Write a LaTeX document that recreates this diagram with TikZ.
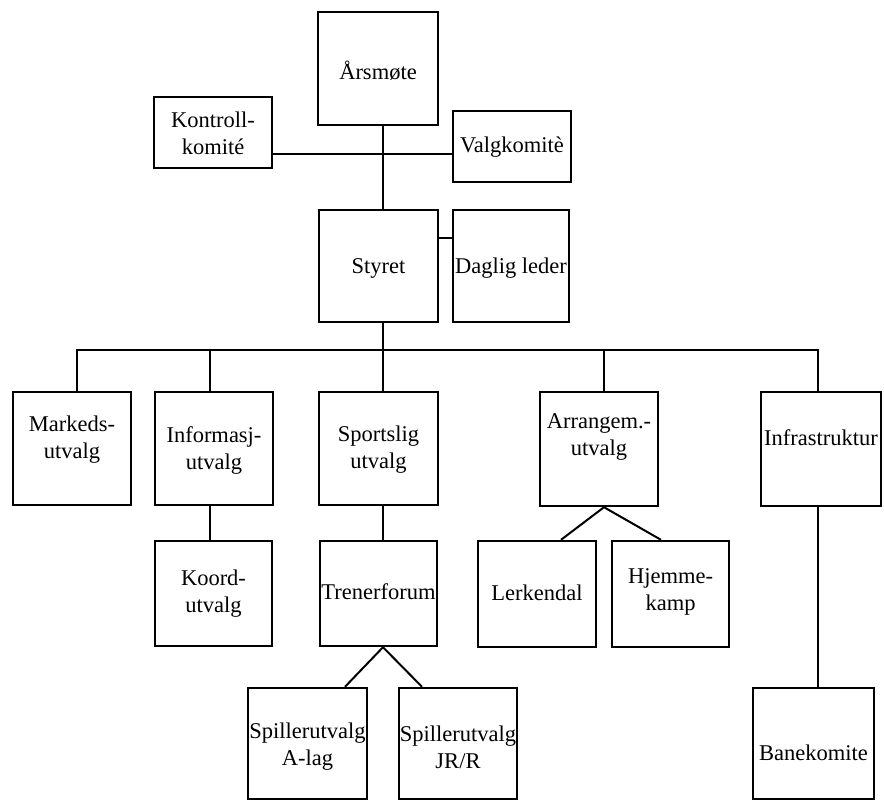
\documentclass[tikz,border=0pt]{standalone}
\usepackage{fontspec}
\setmainfont{Liberation Serif}
\begin{document}
\begin{tikzpicture}[x=1pt,y=-1pt,
  box/.style={draw=black, line width=2.4pt, rectangle, inner sep=0pt, fill=none},
  lbl/.style={inner sep=0pt, align=center, font=\fontsize{22.5}{27}\selectfont},
  conn/.style={draw=black, line width=2pt}]
\useasboundingbox[fill=white] (0,0) rectangle (884,801);
% box macro: name, left, top, right, bottom, text y, text
\newcommand\orgbox[7]{%
  \node[box, minimum width={(#4-#2)*1pt}, minimum height={(#5-#3)*1pt}] (#1) at ({(#2+#4)/2},{(#3+#5)/2}) {};
  \node[lbl] (#1-t) at ({(#2+#4)/2},#6) {#7};}
\orgbox{arsmote}{318}{12}{438}{125}{71}{Årsmøte}
\orgbox{kontroll}{154}{97}{272}{168}{133}{Kontroll-\\komité}
\orgbox{valg}{453}{111}{571}{182}{147}{Valgkomitè}
\orgbox{styret}{319}{210}{438}{322}{268}{Styret}
\orgbox{daglig}{453}{210}{569}{322}{268}{Daglig leder}
\orgbox{markeds}{13}{392}{131}{505}{440}{Markeds-\\utvalg}
\orgbox{info}{155}{392}{273}{505}{450}{Informasj-\\utvalg}
\orgbox{sport}{319}{392}{438}{505}{450}{Sportslig\\utvalg}
\orgbox{arr}{540}{392}{658}{506}{437}{Arrangem.-\\utvalg}
\orgbox{infra}{761}{392}{881}{506}{438}{Infrastruktur}
\orgbox{koord}{155}{541}{272}{646}{594}{Koord-\\utvalg}
\orgbox{trener}{320}{541}{437}{646}{592}{Trenerforum}
\orgbox{lerk}{478}{541}{596}{647}{593}{Lerkendal}
\orgbox{hjem}{612}{541}{729}{647}{592}{Hjemme-\\kamp}
\orgbox{spa}{248}{688}{367}{799}{747}{Spillerutvalg\\A-lag}
\orgbox{spj}{399}{688}{517}{799}{747}{Spillerutvalg\\JR/R}
\orgbox{bane}{753}{688}{874}{799}{753}{Banekomite}
% helper coordinates
\coordinate (spine) at (383,0);
\coordinate (hline) at (0,154);
\coordinate (dl) at (0,238);
\coordinate (bus) at (0,350);
\coordinate (xm) at (77,0);
\coordinate (xi) at (210,0);
\coordinate (xa) at (604,0);
\coordinate (xf) at (818,0);
\coordinate (la) at (561,0);
\coordinate (ha) at (661,0);
\coordinate (sa) at (345,0);
\coordinate (sj) at (422,0);
% connectors
\draw[conn] (arsmote.south -| spine) -- (styret.north -| spine);
\draw[conn] (kontroll.east |- hline) -- (valg.west |- hline);
\draw[conn] (styret.east |- dl) -- (daglig.west |- dl);
\draw[conn] (styret.south -| spine) -- (sport.north -| spine);
\draw[conn] (markeds.north -| xm) -- (bus -| xm) -- (bus -| xf) -- (infra.north -| xf);
\draw[conn] (info.north -| xi) -- (bus -| xi);
\draw[conn] (arr.north -| xa) -- (bus -| xa);
\draw[conn] (info.south -| xi) -- (koord.north -| xi);
\draw[conn] (sport.south -| spine) -- (trener.north -| spine);
\draw[conn] (lerk.north -| la) -- (arr.south -| xa) -- (hjem.north -| ha);
\draw[conn] (spa.north -| sa) -- (trener.south -| spine) -- (spj.north -| sj);
\draw[conn] (infra.south -| xf) -- (bane.north -| xf);
\end{tikzpicture}
\end{document}
